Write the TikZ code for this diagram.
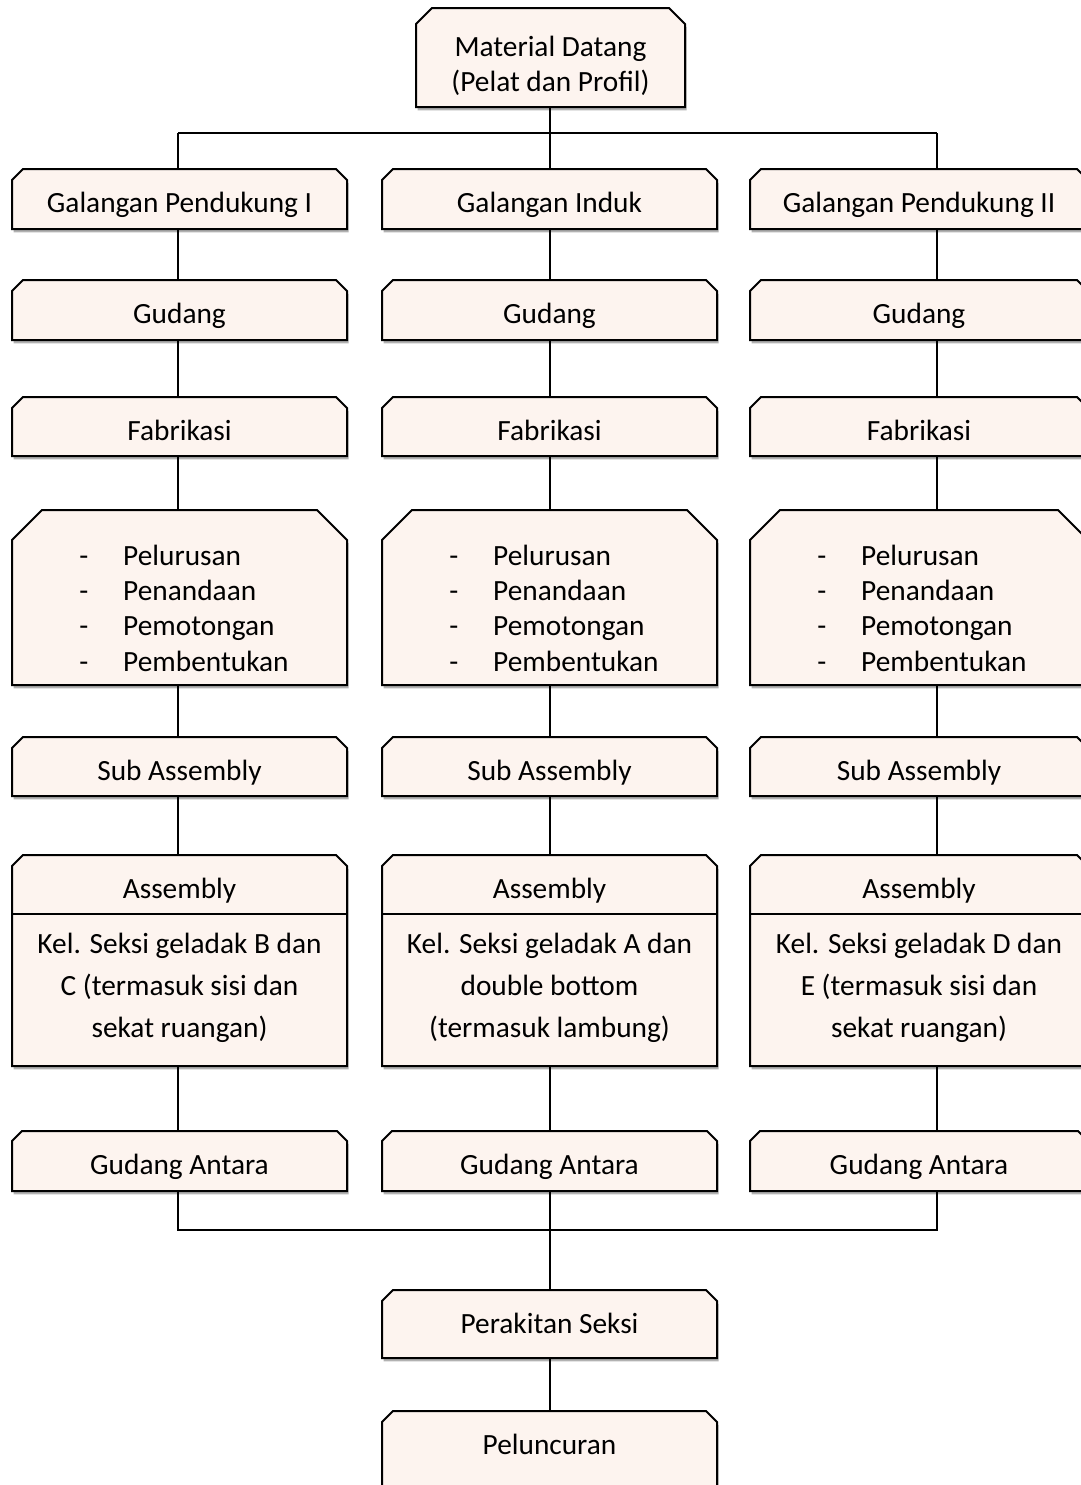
\documentclass[tikz,border=0pt]{standalone}
\usepackage{fontspec}
\setmainfont{Carlito}
\usetikzlibrary{shadows,fit}
\definecolor{boxfill}{HTML}{FDF4EF}
\tikzset{
  x=0.75pt, y=-0.75pt,
  boxshape/.style={draw=black, line width=1.5pt, fill=boxfill,
    drop shadow={opacity=0.3, shadow xshift=1.2pt, shadow yshift=-2.5pt, fill=black}},
  holder/.style={inner sep=0pt, draw=none},
  label/.style={inner sep=0pt, align=center, font=\fontsize{22}{27}\selectfont},
  toplabel/.style={label, anchor=base, yshift=-32.6pt},
  link/.style={draw=black, line width=1pt},
  divider/.style={draw=black, line width=1.5pt},
}
% #1 name, #2 x1, #3 y1, #4 x2, #5 y2, #6 chamfer, #7 text
\newcommand\chbox[7]{%
  \path[boxshape] ({#2},{#5}) -- ({#2},{#3+#6}) -- ({#2+#6},{#3}) -- ({#4-#6},{#3}) -- ({#4},{#3+#6}) -- ({#4},{#5}) -- cycle;
  \node[holder, fit={(#2,#3) (#4,#5)}] (#1) {};
  \node[toplabel] (#1T) at (#1.north) {#7};
}
\newcommand\dashitem[1]{\makebox[33pt][l]{-}#1}
\begin{document}
\begin{tikzpicture}
\clip (0,0) rectangle (1081,1485);
\fill[white] (0,0) rectangle (1081,1485);

% column x positions
\coordinate (xL) at (178,0);
\coordinate (xC) at (550,0);
\coordinate (xR) at (937,0);

% top
\path[boxshape] (416,107) -- (416,24) -- (432,8) -- (669,8) -- (685,24) -- (685,107) -- cycle;
\node[holder, fit={(416,8) (685,107)}] (top) {};
\node[label, font=\fontsize{22}{26.3}\selectfont, yshift=-6pt] (topT) at (top.center) {Material Datang\\(Pelat dan Profil)};

% rows per column
\foreach \n/\a/\b in {1/12/347, 2/382/717, 3/750/1088} {
  \chbox{gu\n}{\a}{280}{\b}{340}{11}{Gudang}
  \chbox{fa\n}{\a}{397}{\b}{456}{11}{Fabrikasi}
  \path[boxshape] (\a,685) -- (\a,540) -- (\a+30,510) -- (\b-30,510) -- (\b,540) -- (\b,685) -- cycle;
  \node[holder, fit={(\a,510) (\b,685)}] (li\n) {};
  \node[label, align=left, anchor=west] (li\n T) at (\a+67,608)
    {\dashitem{Pelurusan}\\[-0.5pt]\dashitem{Penandaan}\\[-0.5pt]\dashitem{Pemotongan}\\[-0.5pt]\dashitem{Pembentukan}};
  \chbox{sa\n}{\a}{737}{\b}{796}{11}{Sub Assembly}
  \path[boxshape] (\a,1066) -- (\a,866) -- (\a+11,855) -- (\b-11,855) -- (\b,866) -- (\b,1066) -- cycle;
  \node[holder, fit={(\a,855) (\b,1066)}] (as\n) {};
  \node[holder, fit={(\a,855) (\b,914)}] (asA\n) {};
  \node[toplabel] (asA\n T) at (asA\n.north) {Assembly};
  \node[holder, fit={(\a,914) (\b,1066)}] (asB\n) {};
  \draw[divider] (asA\n.south west) -- (asA\n.south east);
  \chbox{ga\n}{\a}{1131}{\b}{1191}{10}{Gudang Antara}
}
\chbox{g1}{12}{169}{347}{229}{11}{Galangan Pendukung I}
\chbox{g2}{382}{169}{717}{229}{11}{Galangan Induk}
\chbox{g3}{750}{169}{1088}{229}{11}{Galangan Pendukung II}

\node[label, font=\fontsize{22}{31.5}\selectfont, yshift=2pt] (asT1) at (asB1.center) {Kel. Seksi geladak B dan\\C (termasuk sisi dan\\sekat ruangan)};
\node[label, font=\fontsize{22}{31.5}\selectfont, yshift=2pt] (asT2) at (asB2.center) {Kel. Seksi geladak A dan\\double bottom\\(termasuk lambung)};
\node[label, font=\fontsize{22}{31.5}\selectfont, yshift=2pt] (asT3) at (asB3.center) {Kel. Seksi geladak D dan\\E (termasuk sisi dan\\sekat ruangan)};

\chbox{ps}{382}{1290}{717}{1358}{11}{Perakitan Seksi}
\chbox{pl}{382}{1411}{717}{1520}{11}{Peluncuran}

% top bus
\coordinate (busL) at (178,133);
\coordinate (busR) at (937,133);
\draw[link] (xC |- top.south) -- (xC |- busL);
\draw[link] (busL) -- (busR);
\draw[link] (busL) -- (busL |- g1.north);
\draw[link] (xC |- busL) -- (xC |- g2.north);
\draw[link] (busR) -- (busR |- g3.north);

% vertical chains
\foreach \n/\x in {1/xL, 2/xC, 3/xR} {
  \draw[link] (\x |- g\n.south) -- (\x |- gu\n.north);
  \draw[link] (\x |- gu\n.south) -- (\x |- fa\n.north);
  \draw[link] (\x |- fa\n.south) -- (\x |- li\n.north);
  \draw[link] (\x |- li\n.south) -- (\x |- sa\n.north);
  \draw[link] (\x |- sa\n.south) -- (\x |- as\n.north);
}

% bottom bus
\coordinate (bbL) at (178,1230);
\coordinate (bbR) at (937,1230);
\draw[link] (xL |- as1.south) -- (xL |- ga1.north);
\draw[link] (xC |- as2.south) -- (xC |- ga2.north);
\draw[link] (xR |- as3.south) -- (xR |- ga3.north);
\draw[link] (xL |- ga1.south) -- (bbL) -- (bbR) -- (xR |- ga3.south);
\draw[link] (xC |- ga2.south) -- (xC |- ps.north);
\draw[link] (xC |- ps.south) -- (xC |- pl.north);
\end{tikzpicture}
\end{document}
